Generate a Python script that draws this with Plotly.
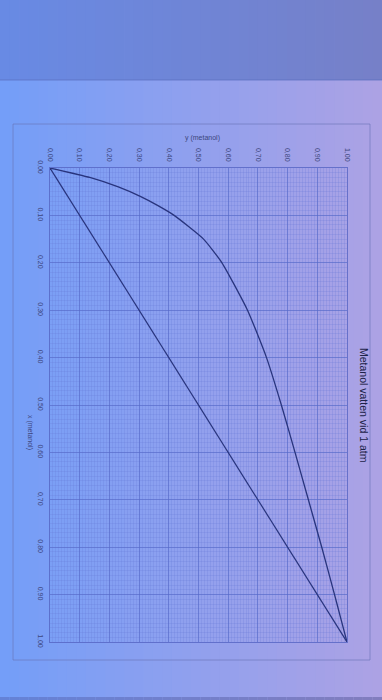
import plotly.graph_objects as go

# Data
x_liquid = [0.00, 0.02, 0.04, 0.06, 0.08, 0.10, 0.15, 0.20, 0.30, 0.40, 0.50, 0.60, 0.70, 0.80, 0.90, 0.95, 1.00]
y_vapour = [0.000, 0.134, 0.230, 0.304, 0.365, 0.418, 0.517, 0.579, 0.665, 0.729, 0.779, 0.825, 0.870, 0.915, 0.958, 0.979, 1.000]
diag_x = [0.0, 1.0]
diag_y = [0.0, 1.0]
tick_vals = [0.0, 0.1, 0.2, 0.3, 0.4, 0.5, 0.6, 0.7, 0.8, 0.9, 1.0]
tick_text = ["0,00", "0,10", "0,20", "0,30", "0,40", "0,50", "0,60", "0,70", "0,80", "0,90", "1,00"]
title_text = "Metanol vatten vid 1 atm"
xlabel_text = "x (metanol)"
ylabel_text = "y (metanol)"

W, H = 382, 700
L, R, T, B = 50, 347, 168, 642  # plot area in px


def px(xp):
    return (xp - L) / (R - L)


def py(yp):
    return (B - yp) / (B - T)


def lerp(c1, c2, t):
    return tuple(round(a + (b - a) * t) for a, b in zip(c1, c2))


fig = go.Figure()

# curves: rotated chart -> horizontal axis shows y, vertical shows x
fig.add_trace(go.Scatter(x=diag_y, y=diag_x, mode="lines",
                         line=dict(color="rgb(40,52,125)", width=1.2),
                         hoverinfo="skip", showlegend=False))
fig.add_trace(go.Scatter(x=y_vapour, y=x_liquid, mode="lines",
                         line=dict(color="rgb(40,52,125)", width=1.3, shape="spline", smoothing=0.5),
                         showlegend=False))

shapes = []
# background gradient strips (photo lighting)
n = 40
left_c = (116, 158, 248)
right_c = (172, 162, 228)
top_left = (104, 138, 228)
top_right = (118, 128, 200)
for i in range(n):
    x0 = W * i / n
    x1 = W * (i + 1) / n + 0.6
    t = i / (n - 1)
    c = lerp(left_c, right_c, t)
    shapes.append(dict(type="rect", xref="paper", yref="paper",
                       x0=px(x0), x1=px(x1), y0=py(700), y1=py(80),
                       fillcolor="rgb(%d,%d,%d)" % c, line=dict(width=0), layer="below"))
    ct = lerp(top_left, top_right, t)
    shapes.append(dict(type="rect", xref="paper", yref="paper",
                       x0=px(x0), x1=px(x1), y0=py(80), y1=py(0),
                       fillcolor="rgb(%d,%d,%d)" % ct, line=dict(width=0), layer="below"))
    cb = lerp((100, 130, 215), (130, 125, 190), t)
    shapes.append(dict(type="rect", xref="paper", yref="paper",
                       x0=px(x0), x1=px(x1), y0=py(700), y1=py(697),
                       fillcolor="rgb(%d,%d,%d)" % cb, line=dict(width=0), layer="below"))
# paper top edge
shapes.append(dict(type="line", xref="paper", yref="paper", x0=px(0), x1=px(382), y0=py(80), y1=py(80),
                   line=dict(color="rgba(90,110,190,0.7)", width=1), layer="below"))
# chart area frame
shapes.append(dict(type="rect", xref="paper", yref="paper", x0=px(13), x1=px(370), y0=py(660), y1=py(124),
                   line=dict(color="rgba(105,115,180,0.6)", width=1), layer="below"))

fig.update_layout(
    width=W, height=H,
    margin=dict(l=L, r=W - R, t=T, b=H - B),
    paper_bgcolor="rgb(140,160,240)",
    plot_bgcolor="rgba(0,0,0,0)",
    shapes=shapes,
    showlegend=False,
    font=dict(family="Liberation Sans, Arial, sans-serif", color="rgb(60,70,125)"),
    xaxis=dict(range=[0, 1], side="top", tickvals=tick_vals, ticktext=tick_text, tickangle=90,
               tickfont=dict(size=7, color="rgb(60,70,125)"), ticks="", ticklabelstandoff=3,
               showgrid=True, gridcolor="rgba(85,105,200,0.6)", gridwidth=1,
               minor=dict(dtick=0.01, showgrid=True, gridcolor="rgba(100,120,215,0.22)", gridwidth=0.5),
               showline=True, linecolor="rgba(85,100,195,0.8)", mirror=True, zeroline=False),
    yaxis=dict(range=[1, 0], tickvals=tick_vals, ticktext=tick_text, tickangle=90,
               tickfont=dict(size=7, color="rgb(60,70,125)"), ticks="", ticklabelstandoff=3,
               showgrid=True, gridcolor="rgba(85,105,200,0.6)", gridwidth=1,
               minor=dict(dtick=0.01, showgrid=True, gridcolor="rgba(100,120,215,0.22)", gridwidth=0.5),
               showline=True, linecolor="rgba(85,100,195,0.8)", mirror=True, zeroline=False),
    annotations=[
        dict(text=title_text, xref="paper", yref="paper", x=px(364), y=py(405), textangle=90,
             showarrow=False, font=dict(size=10.5, color="rgb(28,34,72)"), xanchor="center", yanchor="middle"),
        dict(text=ylabel_text, xref="paper", yref="paper", x=px(202), y=py(138),
             showarrow=False, font=dict(size=7, color="rgb(60,70,125)"), xanchor="center", yanchor="middle"),
        dict(text=xlabel_text, xref="paper", yref="paper", x=px(30), y=py(432), textangle=90,
             showarrow=False, font=dict(size=7, color="rgb(60,70,125)"), xanchor="center", yanchor="middle"),
    ],
)

fig.write_html("out.html")
